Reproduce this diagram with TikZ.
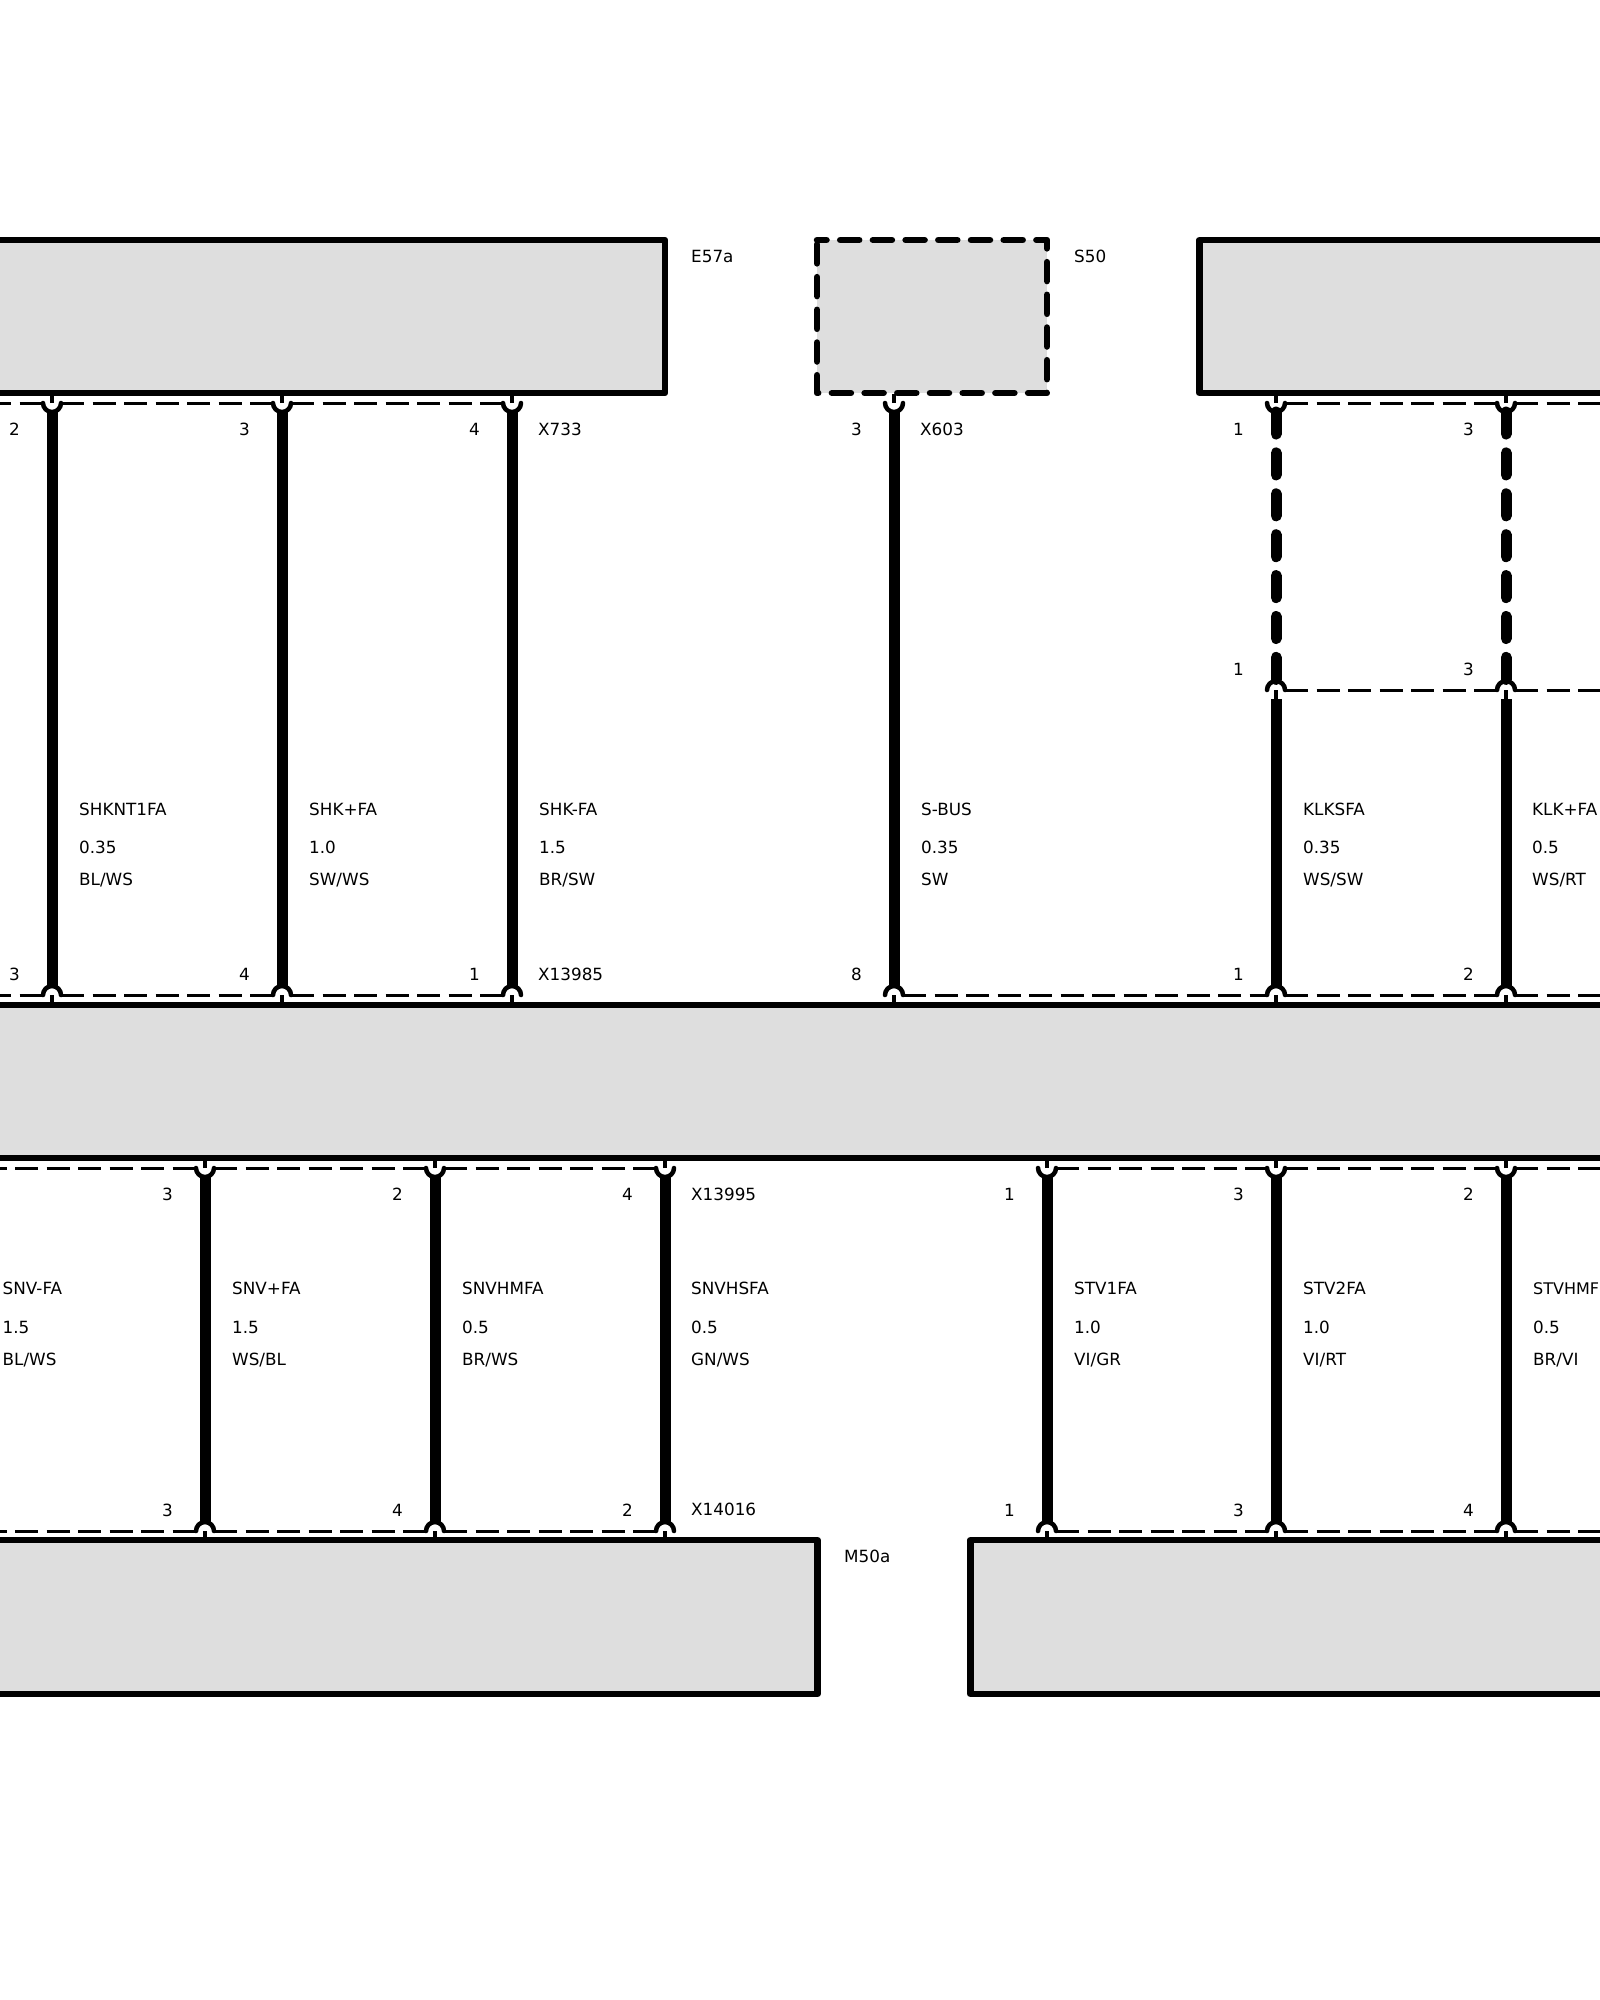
\documentclass[tikz,border=0pt]{standalone}
\usepackage{fontspec}
\setmainfont{DejaVu Sans}
\definecolor{unitgrey}{HTML}{DEDEDE}
\begin{document}
\begin{tikzpicture}[x=1pt,y=-1pt,
	unit/.style={fill=unitgrey,anchor=north west,inner sep=0pt,outer sep=0pt},
	solidunit/.style={unit,draw=black,line width=6.5pt,line join=round},
	unitdash/.style={line width=6.5pt,line cap=round,line join=round,dash pattern=on 19pt off 13.7pt,dash phase=9.5pt},
	contact/.style={circle,fill=white,inner sep=0pt,outer sep=0pt,minimum size=18pt},
	socket/.style={line width=4.5pt,line cap=round},
	pinline/.style={line width=4.5pt},
	wire/.style={line width=11pt},
	wiredash/.style={line width=11pt,line cap=round,dash pattern=on 22pt off 18.9pt},
	seam/.style={line width=3pt,dash pattern=on 23pt off 8.5pt},
	txt/.style={font=\fontsize{16.8}{20}\selectfont,inner sep=0pt,anchor=base west},
	pinno/.style={txt,anchor=base}]
	% Fix the page and cut what runs over its edges
	\useasboundingbox (0,0) rectangle (1600,2000);
	\clip (0,0) rectangle (1600,2000);
	% Contacts that open upwards, under a unit
	\foreach \cname/\cx/\cy/\cpin in {x733a/52/403/2,x733b/282/403/3,x733c/512/403/4,x603a/894/403/3,
			klka/1276/403/1,klkb/1506/403/3,
			x13995a/205/1168/3,x13995b/435/1168/2,x13995c/665/1168/4,
			x13995d/1047/1168/1,x13995e/1276/1168/3,x13995f/1506/1168/2} {
		\node[contact] (\cname) at (\cx,\cy) {};
		\node[pinno] (\cname-no) at (\cx-37.5,\cy+32) {\cpin};
		\draw[socket] (\cname.west) arc[start angle=180,end angle=360,radius=9pt];
		\draw[pinline] (\cname.center) -- (\cname.north);
	}
	% Contacts that open downwards, over a unit or a wire
	\foreach \cname/\cx/\cy/\cpin in {klkma/1276/690/1,klkmb/1506/690/3,
			x13985a/52/995/3,x13985b/282/995/4,x13985c/512/995/1,x13985d/894/995/8,
			x13985e/1276/995/1,x13985f/1506/995/2,
			x14016a/205/1531/3,x14016b/435/1531/4,x14016c/665/1531/2,
			x14016d/1047/1531/1,x14016e/1276/1531/3,x14016f/1506/1531/4} {
		\node[contact] (\cname) at (\cx,\cy) {};
		\node[pinno] (\cname-no) at (\cx-37.5,\cy-15) {\cpin};
		\draw[socket] (\cname.west) arc[start angle=180,end angle=0,radius=9pt];
		\draw[pinline] (\cname.center) -- (\cname.south);
	}
	% Units
	\node[solidunit,minimum width=685pt,minimum height=153pt] (e57a) at (-20,240) {};
	\node[unit,minimum width=230pt,minimum height=153pt] (s50) at (817,240) {};
	\draw[unitdash] (s50.north west) -- (s50.north east) -- (s50.south east) -- (s50.south west) -- cycle;
	\node[solidunit,minimum width=440pt,minimum height=153pt] (klkunit) at (1199.5,240) {};
	\node[solidunit,minimum width=1640pt,minimum height=153pt] (mainunit) at (-20,1005) {};
	\node[solidunit,minimum width=837.5pt,minimum height=154pt] (m50a) at (-20,1540) {};
	\node[solidunit,minimum width=650pt,minimum height=154pt] (m50b) at (970.5,1540) {};
	% Free ends of the connector lines
	\coordinate (x733end) at (-169.5,403);
	\coordinate (klkend) at (1620,403);
	\coordinate (klkmend) at (1620,690);
	\coordinate (x13985start) at (-169.5,995);
	\coordinate (x13985end) at (1620,995);
	\coordinate (x13995start) at (-16.5,1168);
	\coordinate (x13995end) at (1620,1168);
	\coordinate (x14016start) at (-16.5,1531);
	\coordinate (x14016end) at (1620,1531);
	% Connector lines
	\foreach \ca/\cb in {x733a/x733b,x733b/x733c,klka/klkb,klkma/klkmb,
			x13985a/x13985b,x13985b/x13985c,x13985d/x13985e,x13985e/x13985f,
			x13995a/x13995b,x13995b/x13995c,x13995d/x13995e,x13995e/x13995f,
			x14016a/x14016b,x14016b/x14016c,x14016d/x14016e,x14016e/x14016f}
		\draw[seam] (\ca.east) -- (\cb.west);
	\foreach \ca/\cb in {x733end/x733a,x13985start/x13985a,x13995start/x13995a,x14016start/x14016a}
		\draw[seam] (\ca) -- (\cb.west);
	\foreach \ca/\cb in {klkb/klkend,klkmb/klkmend,x13985f/x13985end,x13995f/x13995end,x14016f/x14016end}
		\draw[seam] (\ca.east) -- (\cb);
	% Wires
	\foreach \ca/\cb in {x733a/x13985a,x733b/x13985b,x733c/x13985c,x603a/x13985d,
			klkma/x13985e,klkmb/x13985f,
			x13995a/x14016a,x13995b/x14016b,x13995c/x14016c,
			x13995d/x14016d,x13995e/x14016e,x13995f/x14016f}
		\draw[wire] (\ca.south) -- (\cb.north);
	\draw[wiredash] (klka.south) -- (klkma.north);
	\draw[wiredash] (klkb.south) -- (klkmb.north);
	% Wire labels: name, section, colour
	\foreach \wx/\wname/\wsize/\wcol in {79/SHKNT1FA/0.35/{BL/WS},309/SHK+FA/1.0/{SW/WS},539/SHK-FA/1.5/{BR/SW},
			921/S-BUS/0.35/SW,1303/KLKSFA/0.35/{WS/SW},1532/KLK+FA/0.5/{WS/RT}} {
		\node[txt] (upname\wx) at (\wx,815) {\wname};
		\node[txt] (upsize\wx) at (\wx,853) {\wsize};
		\node[txt] (upcol\wx) at (\wx,885) {\wcol};
	}
	\foreach \wx/\wname/\wsize/\wcol in {2.5/SNV-FA/1.5/{BL/WS},232/SNV+FA/1.5/{WS/BL},462/SNVHMFA/0.5/{BR/WS},
			691/SNVHSFA/0.5/{GN/WS},1074/STV1FA/1.0/{VI/GR},1303/STV2FA/1.0/{VI/RT}} {
		\node[txt] (loname\wx) at (\wx,1294.5) {\wname};
		\node[txt] (losize\wx) at (\wx,1333) {\wsize};
		\node[txt] (locol\wx) at (\wx,1365) {\wcol};
	}
	% The last name stops at the page edge
	\node[txt,font=\fontsize{16}{20}\selectfont] (loname1533) at (1533,1294.5) {STVHMF};
	\node[txt] (losize1533) at (1533,1333) {0.5};
	\node[txt] (locol1533) at (1533,1365) {BR/VI};
	% Unit and connector names
	\node[txt] (e57a-name) at (691,262) {E57a};
	\node[txt] (s50-name) at (1074,262) {S50};
	\node[txt] (m50a-name) at (844,1562.5) {M50a};
	\node[txt] (x733-name) at (538,435) {X733};
	\node[txt] (x603-name) at (920,435) {X603};
	\node[txt] (x13985-name) at (538,980) {X13985};
	\node[txt] (x13995-name) at (691,1200) {X13995};
	\node[txt] (x14016-name) at (691,1515) {X14016};
\end{tikzpicture}
\end{document}
